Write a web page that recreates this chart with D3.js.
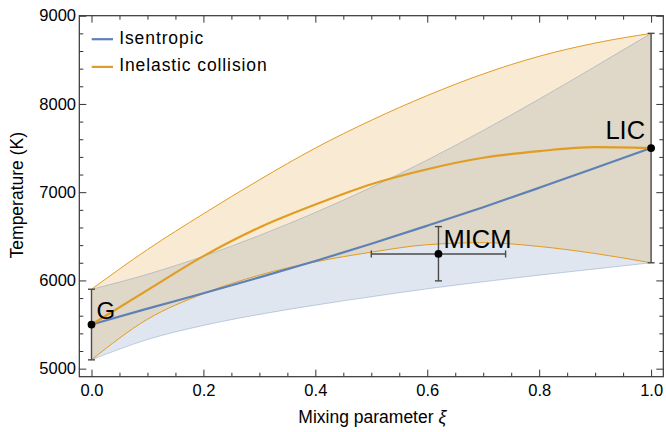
<!DOCTYPE html>
<html>
<head>
<meta charset="utf-8">
<script src="https://cdn.jsdelivr.net/npm/d3@7"></script>
<style>
  html, body { margin: 0; padding: 0; background: #fff; }
  text { font-family: "Liberation Sans", Arial, sans-serif; fill: #000; }
</style>
</head>
<body>
<div id="chart"></div>
<script>
// mixing parameter samples
const xi = [0, 0.1, 0.2, 0.3, 0.4, 0.5, 0.6, 0.7, 0.8, 0.9, 1.0];

// isentropic: central curve and band
const isenMid  = [5500, 5680, 5855, 6035, 6220, 6415, 6620, 6830, 7050, 7275, 7500];
const isenLow  = [5100, 5330, 5490, 5615, 5720, 5815, 5905, 5985, 6060, 6130, 6200];
const isenHigh = [5900, 6070, 6275, 6510, 6770, 7055, 7365, 7700, 8055, 8425, 8800];

// inelastic collision: central curve and band
const inelMid  = [5500, 5890, 6275, 6600, 6860, 7090, 7260, 7390, 7465, 7510, 7500];
const inelLow  = [5100, 5560, 5850, 6060, 6210, 6320, 6405, 6428, 6385, 6305, 6200];
const inelHigh = [5900, 6350, 6755, 7140, 7500, 7815, 8095, 8340, 8540, 8690, 8800];

// labelled points with error bars
const pointNames = ['G', 'LIC', 'MICM'];
const pointX     = [0, 1, 0.62];
const pointXLo   = [0, 1, 0.50];
const pointXHi   = [0, 1, 0.74];
const pointT     = [5500, 7500, 6300];
const pointTLo   = [5100, 6200, 5995];
const pointTHi   = [5900, 8800, 6610];

const xTicks = [0, 0.2, 0.4, 0.6, 0.8, 1.0];
const yTicks = [5000, 6000, 7000, 8000, 9000];
const seriesNames = ['Isentropic', 'Inelastic collision'];

const blue = '#5e81b5';
const orange = '#e19c24';

let W = 666, H = 432;
let margin = { top: 15.7, right: 2.7, bottom: 55.3, left: 79.3 };
let width = W - margin.left - margin.right;
let height = H - margin.top - margin.bottom;

let svg = d3.select('#chart')
  .append('svg')
  .attr('width', W)
  .attr('height', H)
  .append('g')
  .attr('transform', `translate(${margin.left}, ${margin.top})`);

let xScale = d3.scaleLinear().domain([-0.0218, 1.0218]).range([0, width]);
let yScale = d3.scaleLinear().domain([4909, 9000]).range([height, 0]);

let band = (lo, hi) => d3.area()
  .x((d, i) => xScale(xi[i]))
  .y0((d, i) => yScale(lo[i]))
  .y1((d, i) => yScale(hi[i]))
  .curve(d3.curveMonotoneX)(xi);

let curve = (vals) => d3.line()
  .x((d, i) => xScale(xi[i]))
  .y((d, i) => yScale(vals[i]))
  .curve(d3.curveMonotoneX)(xi);

let plot = svg.append('g');

// bands: blue first, orange drawn over it
plot.append('path').attr('d', band(isenLow, isenHigh))
  .attr('fill', blue).attr('fill-opacity', 0.2);
plot.append('path').attr('d', band(inelLow, inelHigh))
  .attr('fill', orange).attr('fill-opacity', 0.2);

// band edges
[isenLow, isenHigh].forEach(v => {
  plot.append('path').attr('d', curve(v))
    .attr('fill', 'none').attr('stroke', blue)
    .attr('stroke-opacity', 0.35).attr('stroke-width', 1);
});
[inelLow, inelHigh].forEach(v => {
  plot.append('path').attr('d', curve(v))
    .attr('fill', 'none').attr('stroke', orange)
    .attr('stroke-width', 1);
});

// central curves
plot.append('path').attr('d', curve(isenMid))
  .attr('fill', 'none').attr('stroke', blue).attr('stroke-width', 2.2);
plot.append('path').attr('d', curve(inelMid))
  .attr('fill', 'none').attr('stroke', orange).attr('stroke-width', 2.2);

// error bars
let ebColor = '#4a4a4a';
let cap = 3.5;
pointNames.forEach((name, i) => {
  let px = xScale(pointX[i]), py = yScale(pointT[i]);
  let g = plot.append('g').attr('stroke', ebColor).attr('stroke-width', 1.4);
  g.append('line').attr('x1', px).attr('x2', px)
    .attr('y1', yScale(pointTLo[i])).attr('y2', yScale(pointTHi[i]));
  g.append('line').attr('x1', px - cap).attr('x2', px + cap)
    .attr('y1', yScale(pointTLo[i])).attr('y2', yScale(pointTLo[i]));
  g.append('line').attr('x1', px - cap).attr('x2', px + cap)
    .attr('y1', yScale(pointTHi[i])).attr('y2', yScale(pointTHi[i]));
  if (pointXHi[i] > pointXLo[i]) {
    g.append('line').attr('x1', xScale(pointXLo[i])).attr('x2', xScale(pointXHi[i]))
      .attr('y1', py).attr('y2', py);
    g.append('line').attr('x1', xScale(pointXLo[i])).attr('x2', xScale(pointXLo[i]))
      .attr('y1', py - cap).attr('y2', py + cap);
    g.append('line').attr('x1', xScale(pointXHi[i])).attr('x2', xScale(pointXHi[i]))
      .attr('y1', py - cap).attr('y2', py + cap);
  }
  plot.append('circle').attr('cx', px).attr('cy', py).attr('r', 3.9).attr('fill', '#000');
});

// point labels
let labelPos = {
  G:    { dx: 5,   dy: -6,  size: 24,   anchor: 'start' },
  LIC:  { dx: -6,  dy: -9,  size: 25.5, anchor: 'end' },
  MICM: { dx: 5,   dy: -6,  size: 25.5, anchor: 'start' }
};
pointNames.forEach((name, i) => {
  let p = labelPos[name];
  plot.append('text')
    .attr('x', xScale(pointX[i]) + p.dx)
    .attr('y', yScale(pointT[i]) + p.dy)
    .attr('text-anchor', p.anchor)
    .style('font-size', p.size + 'px')
    .text(name);
});

// axes: ticks on all four sides pointing inward
let frameColor = '#333';
let minorX = d3.range(0, 1.0001, 0.05).filter(v => Math.abs(v * 5 - Math.round(v * 5)) > 1e-6);
let minorY = d3.range(5000, 9001, 200).filter(v => v % 1000 !== 0);

let xAxis = d3.axisBottom(xScale).tickValues(xTicks).tickFormat(d3.format('.1f'))
  .tickSizeInner(-7).tickSizeOuter(0).tickPadding(7.6);
let yAxis = d3.axisLeft(yScale).tickValues(yTicks).tickFormat(d3.format('d'))
  .tickSizeInner(-7).tickSizeOuter(0).tickPadding(3.3);

let axes = [
  svg.append('g').attr('transform', `translate(0, ${height})`).call(xAxis),
  svg.append('g').attr('transform', `translate(0, ${height})`)
    .call(d3.axisBottom(xScale).tickValues(minorX).tickFormat('').tickSizeInner(-4).tickSizeOuter(0)),
  svg.append('g')
    .call(d3.axisTop(xScale).tickValues(xTicks).tickFormat('').tickSizeInner(-7).tickSizeOuter(0)),
  svg.append('g')
    .call(d3.axisTop(xScale).tickValues(minorX).tickFormat('').tickSizeInner(-4).tickSizeOuter(0)),
  svg.append('g').call(yAxis),
  svg.append('g')
    .call(d3.axisLeft(yScale).tickValues(minorY).tickFormat('').tickSizeInner(-4).tickSizeOuter(0)),
  svg.append('g').attr('transform', `translate(${width}, 0)`)
    .call(d3.axisRight(yScale).tickValues(yTicks).tickFormat('').tickSizeInner(-7).tickSizeOuter(0)),
  svg.append('g').attr('transform', `translate(${width}, 0)`)
    .call(d3.axisRight(yScale).tickValues(minorY).tickFormat('').tickSizeInner(-4).tickSizeOuter(0))
];
axes.forEach(a => {
  a.select('.domain').remove();
  a.selectAll('line').attr('stroke', frameColor).attr('stroke-width', 1);
  a.selectAll('text')
    .style('font-family', '"Liberation Sans", Arial, sans-serif')
    .style('font-size', '16.5px')
    .attr('fill', '#000');
});

svg.append('rect')
  .attr('width', width).attr('height', height)
  .attr('fill', 'none').attr('stroke', frameColor).attr('stroke-width', 1.2);

// axis labels
svg.append('text')
  .attr('x', width / 2 + 1).attr('y', height + 46)
  .attr('text-anchor', 'middle')
  .style('font-size', '17.5px')
  .text('Mixing parameter ')
  .append('tspan').style('font-style', 'italic').text('ξ');

svg.append('text')
  .attr('transform', `translate(${22.7 - margin.left}, ${height / 2 - 1}) rotate(-90)`)
  .attr('text-anchor', 'middle')
  .style('font-size', '17.5px')
  .text('Temperature (K)');

// legend
let legend = svg.append('g').attr('transform', 'translate(12.4, 23.5)');
[blue, orange].forEach((c, i) => {
  let row = legend.append('g').attr('transform', `translate(0, ${i * 27.7})`);
  row.append('line').attr('x1', 0).attr('x2', 21.3).attr('y1', 0).attr('y2', 0)
    .attr('stroke', c).attr('stroke-width', 2.2);
  row.append('text').attr('x', 27.5).attr('y', 4.5)
    .style('font-size', '17.5px')
    .style('letter-spacing', '0.9px')
    .text(seriesNames[i]);
});
</script>
</body>
</html>
